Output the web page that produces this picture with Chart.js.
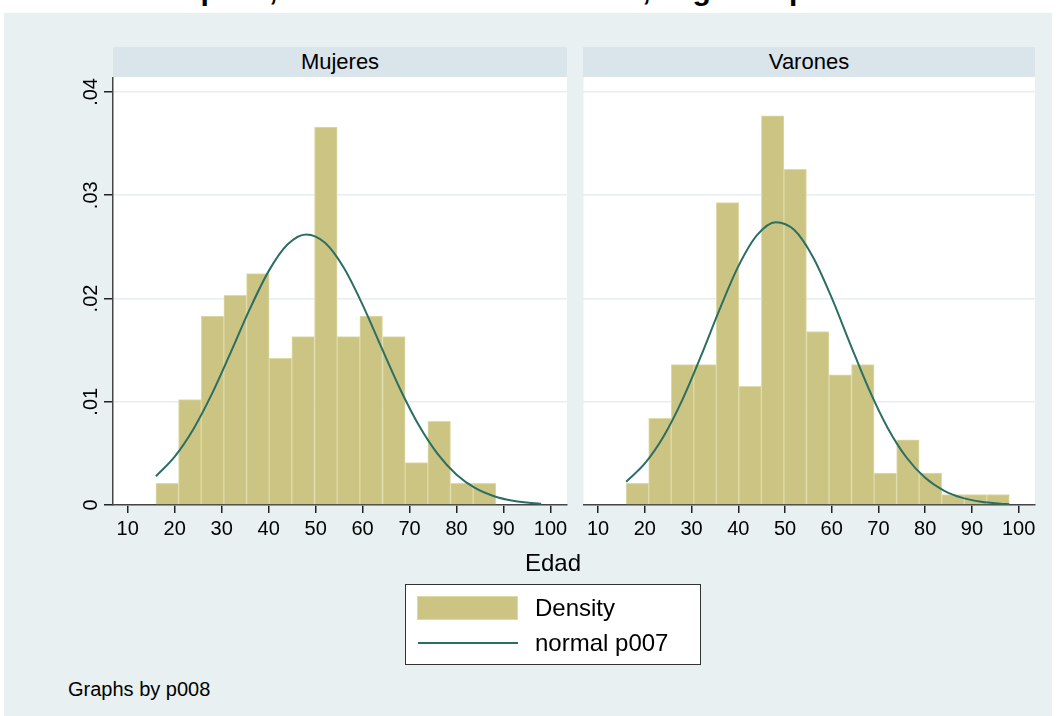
<!DOCTYPE html>
<html>
<head>
<meta charset="utf-8">
<script src="https://cdn.jsdelivr.net/npm/chart.js@4"></script>
<style>
  body { margin: 0; width: 1058px; height: 716px; overflow: hidden; background: #fff;
         position: relative; font-family: "Liberation Sans", Arial, sans-serif; }
  #bg { position: absolute; left: 4px; top: 13px; width: 1048px; height: 703px; background: #e8f0f2; }
  #title { position: absolute; left: 0; top: -27px; width: 1058px; text-align: center;
           font-size: 30px; font-weight: bold; line-height: 34px; color: #000; }
  .strip { position: absolute; top: 47px; height: 30px; background: #d9e5eb;
           text-align: center; line-height: 30px; font-size: 22px; color: #000; }
  canvas { position: absolute; }
  #xtitle { position: absolute; left: 453px; width: 200px; top: 549px; text-align: center;
            font-size: 24px; color: #000; }
  #legend { position: absolute; left: 405px; top: 584px; width: 294px; height: 79px;
            background: #fff; border: 1px solid #333; }
  .sw { position: absolute; left: 11px; top: 11px; width: 101px; height: 24px;
        background: #cbc483; border: 1px solid #dedaa8; box-sizing: border-box; }
  .ln { position: absolute; left: 12px; top: 57px; width: 100px; height: 2px; background: #2b6e64; }
  .lt { position: absolute; left: 129px; font-size: 24px; line-height: 26px; color: #000; }
  #note { position: absolute; left: 68px; top: 678px; font-size: 20px; color: #000; }
</style>
</head>
<body>
<div id="bg"></div>
<div id="title">p007, densidad frente a normal, según el p008</div>
<div class="strip" style="left:113px;width:454px;">Mujeres</div>
<div class="strip" style="left:583px;width:452px;">Varones</div>
<canvas id="cMuj" width="575" height="480" style="left:0;top:77px;"></canvas>
<canvas id="cVar" width="460" height="480" style="left:583px;top:77px;"></canvas>
<div id="xtitle">Edad</div>
<div id="legend">
  <div class="sw"></div>
  <div class="lt" style="top:10px;">Density</div>
  <div class="ln"></div>
  <div class="lt" style="top:45px;">normal p007</div>
</div>
<div id="note">Graphs by p008</div>
<script>
// histogram bins (edad), shared by both panels
const binEdges = [16, 20.82, 25.65, 30.47, 35.29, 40.12, 44.94, 49.76, 54.59,
                  59.41, 64.24, 69.06, 73.88, 78.71, 83.53, 88.35, 93.18, 98];
const mujeresDensity = [0.0021, 0.0102, 0.0183, 0.0203, 0.0224, 0.0142, 0.0163, 0.0366,
                        0.0163, 0.0183, 0.0163, 0.0041, 0.0081, 0.0021, 0.0021, 0, 0];
const varonesDensity = [0.0021, 0.0084, 0.0136, 0.0136, 0.0293, 0.0115, 0.0377, 0.0325,
                        0.0168, 0.0126, 0.0136, 0.0031, 0.0063, 0.0031, 0.0010, 0.0010, 0.0010];

// normal curve
const curveAges = [16, 20, 24, 28, 32, 36, 40, 44, 48, 52, 56, 60, 64, 68, 72, 76, 80, 84, 88, 92, 96, 98];
const mujeresNormal = [0.00278, 0.00469, 0.00737, 0.01083, 0.01485, 0.01899, 0.02265, 0.02522,
                       0.0262, 0.02539, 0.02297, 0.01938, 0.01526, 0.01121, 0.00769, 0.00492,
                       0.00293, 0.00163, 0.00085, 0.00041, 0.00019, 0.00012];
const varonesNormal = [0.00226, 0.00403, 0.00664, 0.01016, 0.01441, 0.01895, 0.02311, 0.02613,
                       0.02739, 0.02663, 0.0240, 0.02006, 0.01554, 0.01117, 0.00744, 0.0046,
                       0.00263, 0.0014, 0.00069, 0.00031, 0.00013, 0.00008];

const xTickValues = [10, 20, 30, 40, 50, 60, 70, 80, 90, 100];
const yTickValues = [0, 0.01, 0.02, 0.03, 0.04];
const yTickLabels = ["0", ".01", ".02", ".03", ".04"];

const FONT = '"Liberation Sans", Arial, sans-serif';

const plotBg = {
  id: "plotBg",
  beforeDraw(chart) {
    const a = chart.chartArea, ctx = chart.ctx;
    ctx.save();
    ctx.fillStyle = "#fff";
    ctx.fillRect(a.left, a.top, a.right - a.left, a.bottom - a.top);
    ctx.restore();
  }
};

// stata style: y labels turned 90 degrees
const yLabels = {
  id: "yLabels",
  afterDraw(chart) {
    const y = chart.scales.y, ctx = chart.ctx;
    ctx.save();
    ctx.font = "20px " + FONT;
    ctx.fillStyle = "#000";
    ctx.textAlign = "center";
    ctx.textBaseline = "middle";
    yTickValues.forEach((v, i) => {
      ctx.save();
      ctx.translate(91, y.getPixelForValue(v));
      ctx.rotate(-Math.PI / 2);
      ctx.fillText(yTickLabels[i], 0, 0);
      ctx.restore();
    });
    ctx.restore();
  }
};

function makeChart(id, density, normal, showY) {
  const bars = density.map((d, i) => ({ x: (binEdges[i] + binEdges[i + 1]) / 2, y: d }));
  const curve = curveAges.map((a, i) => ({ x: a, y: normal[i] }));
  return new Chart(document.getElementById(id), {
    type: "bar",
    data: {
      datasets: [
        { type: "line", data: curve, borderColor: "#2b6e64", borderWidth: 2, pointRadius: 0,
          cubicInterpolationMode: "monotone", fill: false, order: 0 },
        { type: "bar", data: bars, backgroundColor: "#cbc483", borderColor: "#dfdba9",
          borderWidth: 1, barPercentage: 1, categoryPercentage: 1, order: 1 }
      ]
    },
    options: {
      responsive: false,
      animation: false,
      devicePixelRatio: 1,
      layout: { padding: { left: 0, right: 8, top: 0, bottom: 0 } },
      plugins: { legend: { display: false }, tooltip: { enabled: false } },
      scales: {
        x: {
          type: "linear", offset: false, min: 6.87, max: 103.5,
          afterBuildTicks: s => { s.ticks = xTickValues.map(v => ({ value: v })); },
          afterFit: s => { s.height = 52; },
          grid: { offset: false, drawOnChartArea: false, drawTicks: true, tickLength: 8,
                  tickColor: "#222", lineWidth: 1.5 },
          border: { display: true, color: "#444", width: 1.5 },
          ticks: { color: "#000", font: { size: 20, family: FONT }, padding: 4,
                   maxRotation: 0, autoSkip: false, callback: v => String(v) }
        },
        y: {
          min: 0, max: 0.04145,
          afterBuildTicks: s => { s.ticks = yTickValues.map(v => ({ value: v })); },
          afterFit: s => { s.width = showY ? 113 : 0; },
          grid: { color: "#e6eef1", lineWidth: 1.5, drawTicks: showY, tickLength: 9,
                  tickColor: "#222" },
          border: { display: showY, color: "#444", width: 1.5 },
          ticks: { display: false }
        }
      }
    },
    plugins: showY ? [plotBg, yLabels] : [plotBg]
  });
}

makeChart("cMuj", mujeresDensity, mujeresNormal, true);
makeChart("cVar", varonesDensity, varonesNormal, false);
</script>
</body>
</html>
